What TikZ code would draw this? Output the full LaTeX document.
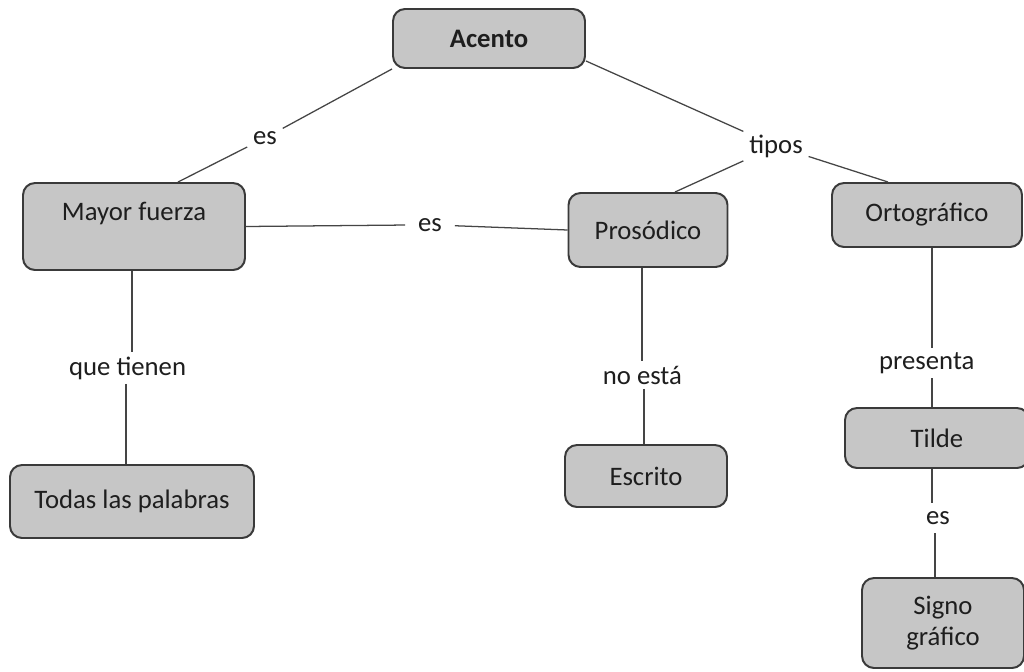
\documentclass[tikz,border=0pt]{standalone}
\usepackage{fontspec}
\setmainfont{Carlito}
\usetikzlibrary{calc}
\definecolor{boxfill}{HTML}{C6C6C6}
\definecolor{boxline}{HTML}{3A3A3A}
\definecolor{conline}{HTML}{454545}
\definecolor{txt}{HTML}{1E1E1E}
\begin{document}
\begin{tikzpicture}[
  font=\fontsize{19}{21.5}\selectfont,
  box/.style={draw=boxline, fill=boxfill, line width=1.4pt, rounded corners=0.3cm,
    text=txt, align=center, inner sep=0pt},
  lbl/.style={fill=white, text=txt, inner xsep=4pt, inner ysep=3pt},
  con/.style={draw=conline, line width=0.9pt}
]
\useasboundingbox (0,0) rectangle (25.6,-16.8);
\clip (0,0) rectangle (25.6,-16.8);
\fill[white] (0,0) rectangle (25.6,-16.8);

% boxes
\node[box, minimum width=4.8cm, minimum height=1.475cm, font=\fontsize{19}{21.5}\selectfont\bfseries] (acento) at (12.225,-0.9625) {Acento};
\node[box, minimum width=5.55cm, minimum height=2.175cm, text height=25pt, text depth=33pt] (mayor) at (3.35,-5.6625) {Mayor fuerza};
\node[box, minimum width=3.975cm, minimum height=1.85cm] (prosodico) at (16.2,-5.75) {Prosódico};
\node[box, minimum width=4.75cm, minimum height=1.6cm] (orto) at (23.175,-5.375) {Ortográfico};
\node[box, minimum width=4.6cm, minimum height=1.5cm] (tilde) at (23.425,-10.95) {Tilde};
\node[box, minimum width=4.05cm, minimum height=2.25cm] (signo) at (23.575,-15.575) {Signo\\gráfico};
\node[box, minimum width=4.05cm, minimum height=1.55cm] (escrito) at (16.15,-11.9) {Escrito};
\node[box, minimum width=6.1cm, minimum height=1.825cm] (todas) at (3.3,-12.5375) {Todas las palabras};

% linking labels
\node[lbl] (es1) at (6.625,-3.45) {es};
\node[lbl] (tipos) at (19.4,-3.65) {tipos};
\node[lbl, inner xsep=9pt] (es2) at (10.75,-5.62) {es};
\node[lbl] (que) at (3.19,-9.2) {que tienen};
\node[lbl] (noesta) at (16.06,-9.38) {no está};
\node[lbl] (presenta) at (23.17,-9.08) {presenta};
\node[lbl, inner ysep=6pt] (es3) at (23.45,-12.95) {es};

% attachment points
\coordinate (mS) at ($(mayor.south)+(-0.05,0)$);
\coordinate (tN) at ($(todas.north)+(-0.15,0)$);
\coordinate (pS) at ($(prosodico.south)+(-0.15,0)$);
\coordinate (eN) at ($(escrito.north)+(-0.05,0)$);
\coordinate (oS) at ($(orto.south)+(0.125,0)$);
\coordinate (tiN) at ($(tilde.north)+(-0.125,0)$);
\coordinate (tiS) at ($(tilde.south)+(-0.125,0)$);
\coordinate (sN) at ($(signo.north)+(-0.2,0)$);

% connectors
\draw[con] (acento.south west) -- (es1) -- ($(mayor.north)+(1.1,0)$);
\draw[con] ($(acento.south east)+(0,0.2)$) -- (tipos);
\draw[con] (tipos) -- ($(prosodico.north)+(0.675,0)$);
\draw[con] (tipos) -- ($(orto.north)+(-0.975,0)$);
\draw[con] (mayor.east) -- (es2) -- (prosodico.west);
\draw[con] (mS) -- (mS |- que.north);
\draw[con] (tN |- que.south) -- (tN);
\draw[con] (pS) -- (pS |- noesta.north);
\draw[con] (eN |- noesta.south) -- (eN);
\draw[con] (oS) -- (oS |- presenta.north);
\draw[con] (tiN |- presenta.south) -- (tiN);
\draw[con] (tiS) -- (tiS |- es3.north);
\draw[con] (sN |- es3.south) -- (sN);
\end{tikzpicture}
\end{document}
